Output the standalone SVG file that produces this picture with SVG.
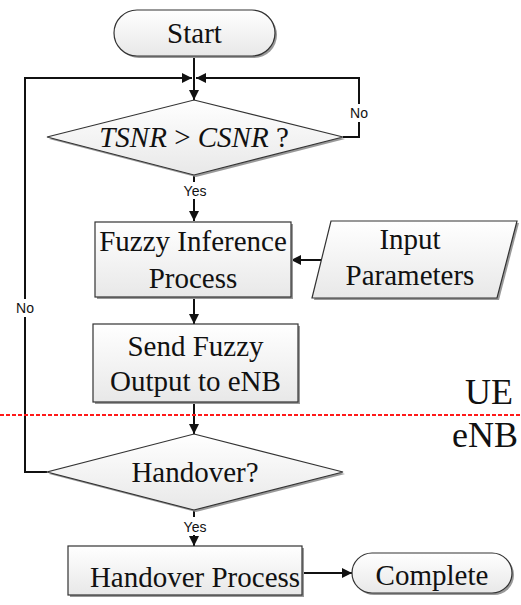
<svg xmlns="http://www.w3.org/2000/svg" width="521" height="605" viewBox="0 0 521 605">
  <defs>
    <linearGradient id="fill" x1="0" y1="0" x2="0" y2="1">
      <stop offset="0" stop-color="#ffffff"/>
      <stop offset="1" stop-color="#e8e8e8"/>
    </linearGradient>
    <marker id="arrow" viewBox="0 0 10 10" refX="10" refY="5" markerWidth="10" markerHeight="10" markerUnits="userSpaceOnUse" orient="auto">
      <path d="M0,0 L10,5 L0,10 Z" fill="#111"/>
    </marker>
  </defs>
  <style>
    .shape { fill: url(#fill); stroke: #333; stroke-width: 1.2; }
    .shadow { fill: #999999; stroke: none; }
    .conn { fill: none; stroke: #111; stroke-width: 2; }
    .arr { marker-end: url(#arrow); }
    .txt { font-family: "Liberation Serif", "Times New Roman", serif; font-size: 29px; fill: #111; text-anchor: middle; }
    .lbl { font-family: "Liberation Sans", Arial, sans-serif; font-size: 14px; fill: #111; text-anchor: middle; }
    .big { font-family: "Liberation Serif", "Times New Roman", serif; font-size: 36px; fill: #111; text-anchor: end; }
  </style>

  <rect width="521" height="605" fill="#ffffff"/>

  <!-- connectors -->
  <g id="connectors">
    <line class="conn arr" x1="194" y1="56" x2="194" y2="100"/>
    <!-- right "No" loop -->
    <polyline class="conn" points="343,137 359,137 359,122"/>
    <polyline class="conn arr" points="359,104 359,78 196,78"/>
    <!-- left "No" loop -->
    <polyline class="conn" points="47,472 25,472 25,317"/>
    <polyline class="conn arr" points="25,299 25,78 192,78"/>
    <!-- Yes to fuzzy inference -->
    <line class="conn" x1="194" y1="175" x2="194" y2="182"/>
    <line class="conn arr" x1="194" y1="199" x2="194" y2="221"/>
    <!-- input to fuzzy inference -->
    <line class="conn arr" x1="321" y1="260" x2="291" y2="260"/>
    <line class="conn arr" x1="194" y1="297" x2="194" y2="324"/>
    <line class="conn arr" x1="194" y1="402" x2="194" y2="434"/>
    <!-- Yes to handover process -->
    <line class="conn" x1="194" y1="510" x2="194" y2="517"/>
    <line class="conn arr" x1="194" y1="535" x2="194" y2="546"/>
    <line class="conn arr" x1="304" y1="573" x2="352" y2="573"/>
    <text class="lbl" x="359" y="118">No</text>
    <text class="lbl" x="25" y="313">No</text>
    <text class="lbl" x="195" y="196">Yes</text>
    <text class="lbl" x="195" y="532">Yes</text>
  </g>

  <!-- boundary between UE and eNB -->
  <g id="boundary">
    <line x1="0" y1="415" x2="521" y2="415" stroke="#ff1a1a" stroke-width="2" stroke-dasharray="4,2"/>
    <text class="big" x="513" y="404">UE</text>
    <text class="big" x="518" y="447">eNB</text>
  </g>

  <g id="start">
    <rect class="shadow" x="116" y="12" width="161" height="46" rx="23"/>
    <rect class="shape" x="114" y="10" width="161" height="46" rx="23"/>
    <text class="txt" x="194.5" y="43">Start</text>
  </g>

  <g id="snr-check">
    <polygon class="shadow" points="196,102 345,139 196,177 49,139"/>
    <polygon class="shape" points="194,100 343,137 194,175 47,137"/>
    <text class="txt" x="194" y="147"><tspan font-style="italic">TSNR</tspan> &gt; <tspan font-style="italic">CSNR</tspan> ?</text>
  </g>

  <g id="fuzzy-inference">
    <rect class="shadow" x="97" y="224" width="196" height="75"/>
    <rect class="shape" x="95" y="222" width="196" height="75"/>
    <text class="txt" x="193" y="251">Fuzzy Inference</text>
    <text class="txt" x="193" y="288">Process</text>
  </g>

  <g id="input-parameters">
    <polygon class="shadow" points="333,223 519,223 499,300 314,300"/>
    <polygon class="shape" points="331,221 517,221 497,298 312,298"/>
    <text class="txt" x="410" y="249">Input</text>
    <text class="txt" x="410" y="285">Parameters</text>
  </g>

  <g id="send-output">
    <rect class="shadow" x="95" y="326" width="205" height="78"/>
    <rect class="shape" x="93" y="324" width="205" height="78"/>
    <text class="txt" x="195.5" y="356">Send Fuzzy</text>
    <text class="txt" x="195.5" y="391">Output to eNB</text>
  </g>

  <g id="handover-check">
    <polygon class="shadow" points="196,436 345,474 196,512 49,474"/>
    <polygon class="shape" points="194,434 343,472 194,510 47,472"/>
    <text class="txt" x="195" y="482">Handover?</text>
  </g>

  <g id="handover-process">
    <rect class="shadow" x="70" y="548" width="234" height="49"/>
    <rect class="shape" x="68" y="546" width="234" height="49"/>
    <text class="txt" x="195" y="587">Handover Process</text>
  </g>

  <g id="complete">
    <rect class="shadow" x="354" y="555" width="160" height="40" rx="20"/>
    <rect class="shape" x="352" y="553" width="160" height="40" rx="20"/>
    <text class="txt" x="432" y="585">Complete</text>
  </g>
</svg>
